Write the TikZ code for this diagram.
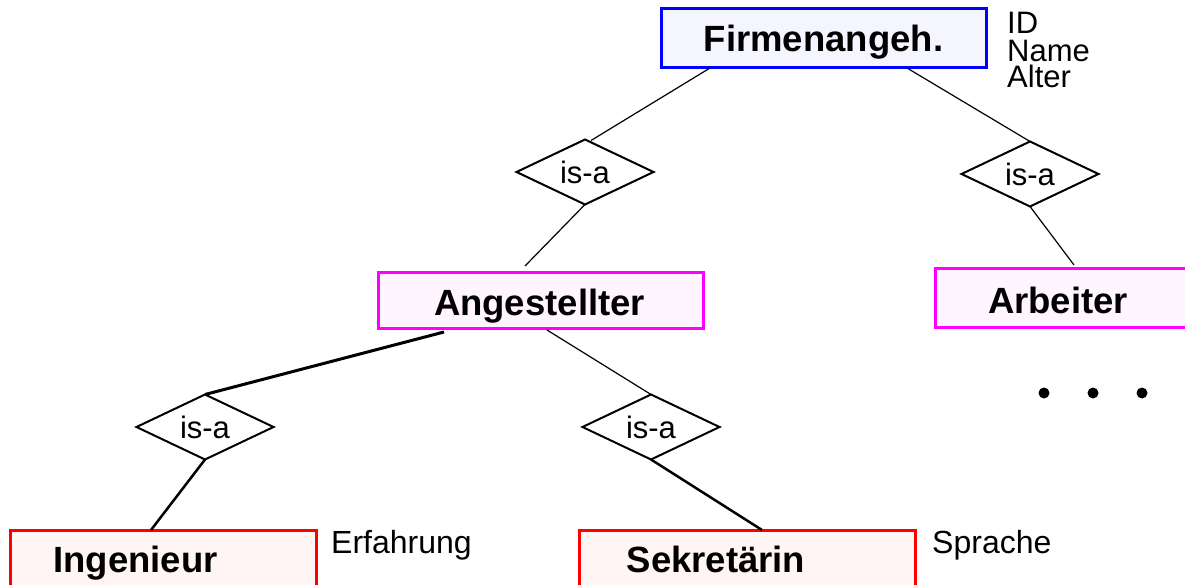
\documentclass[tikz,border=0pt]{standalone}
\usepackage{fontspec}
\setmainfont{Liberation Sans}
\usetikzlibrary{shapes.geometric}
\definecolor{fillF}{HTML}{F5F5FF}
\definecolor{fillM}{HTML}{FFF5FF}
\definecolor{fillR}{HTML}{FFF5F5}
\definecolor{bdB}{HTML}{0000FF}
\definecolor{bdM}{HTML}{FF00FF}
\definecolor{bdR}{HTML}{FF0000}
\tikzset{
  entbox/.style={rectangle, draw=#1, line width=3pt, inner sep=0pt, outer sep=0pt},
  isa/.style={diamond, draw=black, line width=2pt, fill=white, inner sep=0pt, outer sep=0pt,
    aspect=2.1, minimum width=137pt, minimum height=65pt,
    font=\fontsize{31}{32}\selectfont},
  enttext/.style={inner sep=0pt, anchor=base, font=\fontsize{36.5}{40}\selectfont\bfseries},
  attrtext/.style={inner sep=0pt, anchor=base west, font=\fontsize{31}{32}\selectfont},
  thinline/.style={line width=1.2pt},
  thickline/.style={line width=3pt},
  midline/.style={line width=2.5pt},
  dot/.style={circle, fill=black, inner sep=0pt, minimum size=11pt}
}
\begin{document}
\begin{tikzpicture}[x=1pt,y=-1pt]
\useasboundingbox (0,0) rectangle (1185,585);
\clip (0,0) rectangle (1185,585);
% entity boxes
\node[entbox=bdB, fill=fillF, minimum width=325pt, minimum height=59pt] (f) at (823.5,38.5) {};
\node[entbox=bdM, fill=fillM, minimum width=325pt, minimum height=56pt] (ang) at (540.5,300) {};
\node[entbox=bdM, fill=fillM, minimum width=325pt, minimum height=59pt] (arb) at (1097.5,297.5) {};
\node[entbox=bdR, fill=fillR, minimum width=306pt, minimum height=70pt] (ing) at (163,565) {};
\node[entbox=bdR, fill=fillR, minimum width=336pt, minimum height=70pt] (sek) at (747,565) {};
% entity labels
\node[enttext] (tf) at (823.5,52) {Firmenangeh.};
\node[enttext] (tang) at (539.5,315) {Angestellter};
\node[enttext] (tarb) at (1058,313) {Arbeiter};
\node[enttext] (ting) at (135.5,572) {Ingenieur};
\node[enttext] (tsek) at (716,572) {Sekretärin};
% attributes
\node[attrtext] (aid) at (1007,34) {ID};
\node[attrtext] (aname) at (1007,62) {Name};
\node[attrtext] (aalter) at (1007,88) {Alter};
\node[attrtext, font=\fontsize{32}{34}\selectfont] (aerf) at (331,553) {Erfahrung};
\node[attrtext, font=\fontsize{32}{34}\selectfont] (aspr) at (932,553) {Sprache};
% diamonds
\node[isa] (d1) at (585,172) {is-a};
\node[isa] (d2) at (1030,174) {is-a};
\node[isa] (d3) at (205,427) {is-a};
\node[isa] (d4) at (651,427) {is-a};
% connectors
\draw[thinline] ([xshift=-113.5pt]f.south) -- ([xshift=6pt,yshift=-1pt]d1.north);
\draw[thinline] ([xshift=83.5pt]f.south) -- (d2.north);
\draw[thinline] (d1.south) -- ([xshift=-15.5pt,yshift=6pt]ang.north);
\draw[thinline] (d2.south) -- ([xshift=-23.5pt,yshift=3pt]arb.north);
\draw[thickline] ([xshift=-96.5pt,yshift=-4pt]ang.south) -- (d3.north);
\draw[thinline] ([xshift=6.5pt,yshift=-2pt]ang.south) -- (d4.north);
\draw[midline] (d3.south) -- ([xshift=-12pt]ing.north);
\draw[midline] (d4.south) -- ([xshift=15pt]sek.north);
% dots
\node[dot] (p1) at (1044,393) {};
\node[dot] (p2) at (1093,393) {};
\node[dot] (p3) at (1142,393) {};
\end{tikzpicture}
\end{document}
